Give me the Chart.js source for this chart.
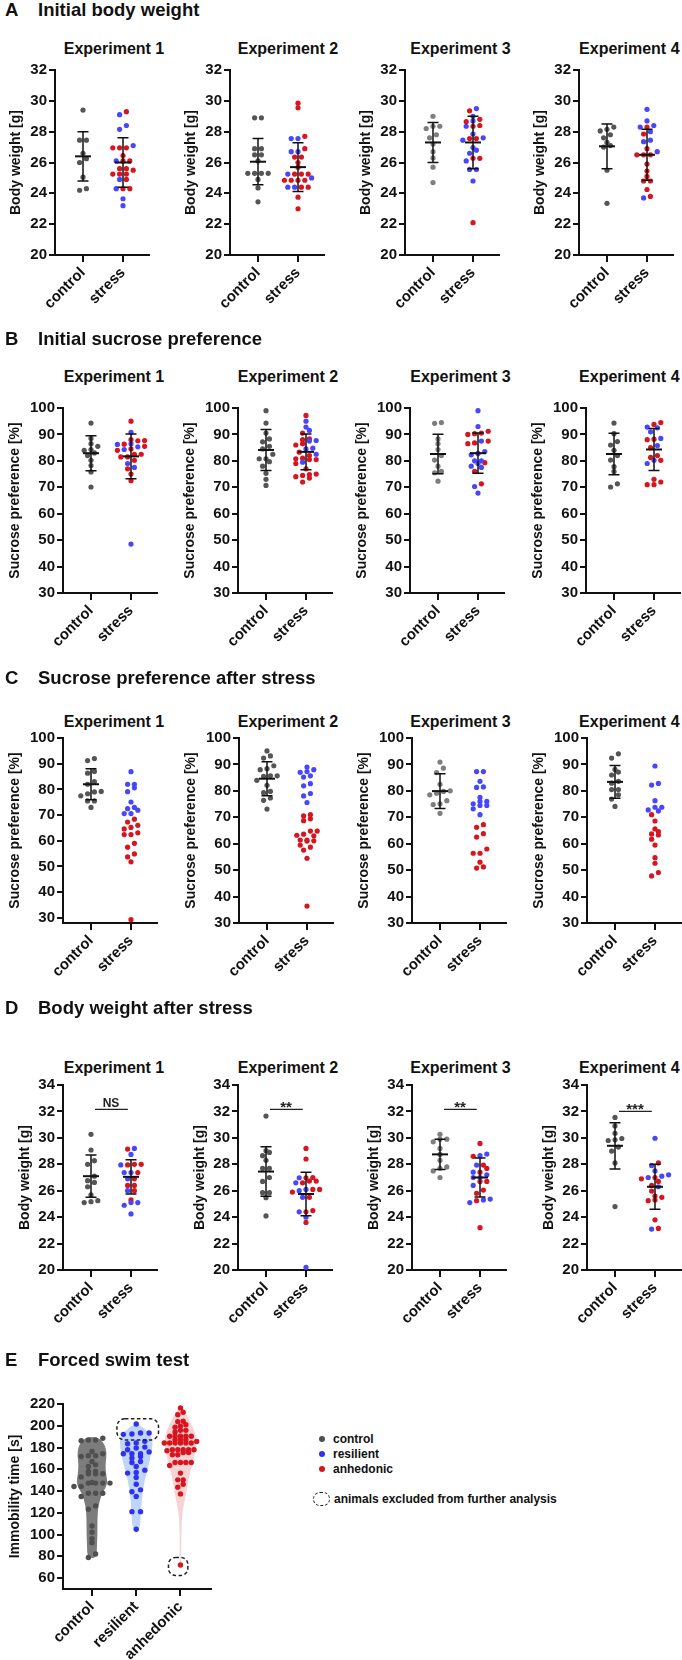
<!DOCTYPE html>
<html><head><meta charset="utf-8">
<script src="https://cdn.jsdelivr.net/npm/chart.js@4/dist/chart.umd.min.js"></script>
<style>
html,body{margin:0;padding:0;background:#fff;}
body{width:682px;height:1660px;position:relative;overflow:hidden;font-family:"Liberation Sans",Arial,Helvetica,sans-serif;color:#111;}
.rt{position:absolute;left:0;font-weight:bold;font-size:18.5px;line-height:22px;white-space:nowrap;height:22px;width:420px;}
.rt .l{position:absolute;left:5px;top:0;}
.rt .t{position:absolute;left:38px;top:0;}
.sub{position:absolute;font-weight:bold;font-size:16px;line-height:18px;white-space:nowrap;transform:translateX(-50%);}
canvas{position:absolute;}
.lg{position:absolute;font-weight:bold;font-size:12px;line-height:14px;white-space:nowrap;}
.dot{position:absolute;width:6px;height:6px;border-radius:50%;}
.dash{position:absolute;border:1.5px dashed #222;border-radius:8px;box-sizing:border-box;}
</style>
</head><body>
<script>
// ---------------- DATA ----------------
const panelCats = ['control', 'stress'];
const fstCats = ['control', 'resilient', 'anhedonic'];
const experiments = ['Experiment 1', 'Experiment 2', 'Experiment 3', 'Experiment 4'];
const rowTitles = ['Initial body weight', 'Initial sucrose preference', 'Sucrose preference after stress', 'Body weight after stress', 'Forced swim test'];
const rowLetters = ['A', 'B', 'C', 'D', 'E'];

// tick labels
const bwTicksA = [20, 22, 24, 26, 28, 30, 32];
const spTicks = [30, 40, 50, 60, 70, 80, 90, 100];
const bwTicksD = [20, 22, 24, 26, 28, 30, 32, 34];
const fstTicks = [60, 80, 100, 120, 140, 160, 180, 200, 220];

// A: initial body weight [g]
const A1_control = [29.4, 27.45, 27.45, 26.6, 26.25, 26.0, 25.05, 24.3, 24.2];
const A1_resilient = [29.1, 28.4, 28.15, 27.1, 26.1, 24.9, 24.3, 23.65, 23.2];
const A1_anhedonic = [29.3, 26.95, 26.95, 26.95, 26.45, 26.1, 26.1, 25.6, 25.6, 25.5, 25.25, 25.25, 25.25, 24.9, 24.3, 24.3];
const A2_control = [28.9, 28.9, 26.9, 26.9, 26.5, 26.5, 26.1, 25.3, 25.3, 25.3, 25.3, 24.9, 24.35, 23.45];
const A2_resilient = [27.55, 27.55, 26.7, 26.7, 25.25, 25.0, 24.4, 24.4];
const A2_anhedonic = [29.85, 29.55, 27.7, 26.9, 26.35, 26.35, 26.0, 25.7, 25.25, 25.25, 25.25, 24.85, 24.85, 24.85, 24.85, 24.4, 24.4, 23.75, 23.0];
const A3_control = [29.0, 28.35, 28.35, 28.2, 27.8, 27.6, 27.2, 26.7, 26.3, 25.7, 24.7];
const A3_resilient = [29.5, 29.0, 28.7, 28.35, 27.85, 27.6, 27.45, 26.97, 26.8, 26.6, 26.1, 25.55, 25.55, 24.8];
const A3_anhedonic = [29.35, 28.8, 28.65, 28.4, 28.35, 27.55, 27.55, 26.27, 26.27, 22.1];
const A4_control = [28.3, 28.15, 28.05, 27.8, 27.6, 27.3, 27.1, 27.0, 25.5, 23.35];
const A4_resilient = [29.45, 28.7, 28.4, 28.3, 28.0, 27.45, 27.35, 26.7, 23.7];
const A4_anhedonic = [28.3, 27.85, 26.9, 26.5, 26.5, 26.5, 25.9, 25.45, 25.1, 24.8, 24.8, 24.25, 23.8];
const A_ctrlMean = [26.4, 26.05, 27.3, 27.05], A_ctrlSD = [1.6, 1.5, 1.3, 1.45];
const A_stressMean = [26.0, 25.7, 27.3, 26.5], A_stressSD = [1.6, 1.58, 1.7, 1.65];

// B: initial sucrose preference [%]
const B1_control = [94.3, 88.5, 86.5, 85.5, 84.3, 84.0, 83.0, 82.0, 80.2, 78.2, 75.8, 70.1];
const B1_resilient = [90.8, 86.5, 86.2, 85.3, 84.3, 79.0, 77.5, 48.5];
const B1_anhedonic = [95.0, 88.0, 87.7, 87.6, 86.3, 85.5, 84.5, 84.0, 82.5, 82.5, 81.5, 81.5, 80.2, 77.0, 75.0, 72.5];
const B2_control = [99.0, 94.3, 90.5, 88.3, 87.2, 85.5, 84.5, 82.5, 80.8, 80.8, 79.7, 78.0, 75.3, 73.0, 70.7];
const B2_resilient = [95.0, 92.8, 91.5, 87.7, 87.5, 84.8, 84.5, 82.5, 79.5];
const B2_anhedonic = [97.2, 90.5, 88.3, 88.0, 86.5, 86.0, 83.3, 82.0, 81.0, 80.8, 80.5, 80.5, 79.0, 77.0, 75.0, 74.8, 74.5, 74.0, 73.5, 72.0];
const B3_control = [94.5, 94.2, 88.3, 86.5, 84.3, 82.0, 80.3, 78.0, 76.0, 75.5, 72.3];
const B3_resilient = [99.0, 93.0, 87.5, 83.5, 82.8, 82.3, 80.0, 80.0, 79.0, 78.0, 77.5, 70.3, 67.8];
const B3_anhedonic = [91.2, 90.5, 90.3, 90.0, 87.5, 86.8, 86.5, 79.3, 76.0, 71.3];
const B4_control = [94.3, 90.3, 87.3, 86.0, 84.0, 82.0, 80.3, 77.8, 76.0, 71.3, 70.1];
const B4_resilient = [92.8, 92.5, 91.0, 88.5, 85.8, 80.2, 79.0];
const B4_anhedonic = [94.5, 93.8, 88.2, 88.0, 85.0, 82.0, 81.3, 80.2, 73.0, 72.0, 71.0, 71.0];
const B_ctrlMean = [82.9, 84.1, 82.6, 82.6], B_ctrlSD = [6.6, 7.75, 7.5, 7.85];
const B_stressMean = [81.7, 83.4, 82.9, 84.3], B_stressSD = [8.5, 6.8, 7.6, 7.95];

// C: sucrose preference after stress [%]
const C1_control = [92.0, 91.2, 87.0, 86.3, 83.0, 82.0, 79.2, 79.0, 78.3, 77.5, 75.5, 75.5, 73.0];
const C1_resilient = [86.9, 82.0, 82.0, 80.6, 79.1, 75.1, 73.0, 72.5, 71.9, 70.6, 70.6];
const C1_anhedonic = [68.4, 67.3, 66.0, 65.2, 64.6, 63.1, 62.4, 62.4, 59.0, 57.5, 54.9, 53.7, 51.8, 29.3];
const C2_control = [95.1, 93.2, 92.4, 89.5, 88.4, 88.0, 85.7, 85.7, 85.5, 84.0, 82.1, 79.8, 79.3, 77.3, 76.4, 73.1];
const C2_resilient = [89.0, 88.0, 87.3, 87.0, 85.7, 85.2, 82.7, 81.9, 79.0, 78.1, 75.6];
const C2_anhedonic = [71.0, 70.5, 69.4, 68.7, 64.8, 64.8, 63.6, 63.2, 63.0, 61.4, 61.4, 61.1, 61.0, 59.5, 58.7, 57.6, 54.5, 36.4];
const C3_control = [90.9, 88.6, 86.9, 82.5, 80.0, 79.8, 79.1, 78.5, 76.3, 75.1, 74.8, 71.5];
const C3_resilient = [87.3, 87.3, 83.6, 81.5, 81.3, 77.5, 76.0, 76.0, 75.1, 74.5, 74.5, 73.2, 71.0];
const C3_anhedonic = [67.2, 66.2, 63.8, 62.5, 58.0, 56.4, 56.4, 53.0, 51.2, 50.8];
const C4_control = [94.0, 92.4, 88.1, 87.1, 86.0, 83.6, 82.9, 80.5, 80.5, 78.5, 76.9, 74.1];
const C4_resilient = [89.4, 82.8, 82.2, 76.3, 73.8, 73.8, 72.8, 72.4];
const C4_anhedonic = [71.0, 68.6, 65.6, 64.6, 63.7, 63.3, 61.7, 59.5, 54.7, 52.6, 49.1, 47.8];
const C_ctrlMean = [82.0, 84.6, 79.9, 83.4], C_ctrlSD = [6.05, 6.45, 6.6, 6.2];

// D: body weight after stress [g]
const D1_control = [30.27, 29.08, 28.27, 28.0, 27.1, 26.76, 26.63, 26.3, 25.68, 25.25, 25.17, 25.1];
const D1_resilient = [29.2, 28.75, 27.95, 27.37, 27.37, 26.9, 26.0, 25.1, 25.1, 24.9, 24.24];
const D1_anhedonic = [29.15, 28.0, 28.0, 27.95, 27.37, 26.9, 26.4, 26.4, 26.0, 25.3];
const D2_control = [31.65, 29.03, 28.9, 28.65, 28.3, 27.7, 27.7, 27.0, 26.7, 25.85, 25.85, 25.47, 24.09];
const D2_resilient = [26.98, 26.6, 26.1, 26.0, 25.5, 24.4, 24.0, 20.2];
const D2_anhedonic = [29.2, 28.4, 27.0, 26.98, 26.73, 26.73, 26.6, 26.1, 26.1, 25.9, 25.5, 24.5, 24.4, 23.6];
const D3_control = [30.27, 29.9, 29.9, 29.7, 29.2, 28.75, 28.3, 27.8, 27.7, 27.5, 27.0];
const D3_resilient = [28.77, 28.65, 27.94, 27.4, 27.2, 27.0, 27.0, 26.4, 25.37, 25.3, 25.1];
const D3_anhedonic = [29.58, 28.6, 27.94, 27.69, 27.4, 26.7, 26.7, 26.05, 25.8, 25.25, 23.2];
const D4_control = [31.55, 30.9, 30.35, 29.95, 29.85, 29.8, 29.3, 29.0, 28.1, 24.8];
const D4_resilient = [29.97, 27.9, 27.5, 27.2, 27.1, 27.0, 26.3, 23.1];
const D4_anhedonic = [28.1, 27.0, 26.9, 26.7, 26.4, 25.97, 25.6, 25.5, 25.3, 25.25, 23.8, 23.15];
const D_ctrlMean = [27.1, 27.45, 28.75, 29.4], D_ctrlSD = [1.6, 1.87, 1.15, 1.75];
const D_stressMean = [27.05, 25.75, 27.0, 26.3], D_stressSD = [1.3, 1.65, 1.47, 1.7];
const D_sigLabels = ['NS', '**', '**', '***'];
const D_sigLevel = [32.15, 32.15, 32.15, 32.0];

// E: forced swim test, immobility time [s]
const E_control = [188.5, 186.9, 186.9, 186.2, 176.4, 174.3, 172.4, 172.4, 171.8, 167.2, 164.1, 162.6, 158.0, 158.0, 155.9, 155.9, 155.9, 153.0, 147.9, 147.3, 147.3, 147.3, 147.3, 144.2, 144.2, 138.0, 138.0, 138.0, 135.0, 126.4, 123.3, 107.9, 102.1, 96.3, 92.6, 82.1, 79.0];
const E_resilient = [201.6, 193.3, 193.3, 192.4, 192.1, 185.7, 184.1, 183.5, 180.4, 179.5, 178.0, 176.0, 174.3, 174.3, 174.3, 171.8, 170.3, 167.2, 166.3, 162.6, 159.2, 157.1, 156.5, 152.5, 146.3, 141.1, 139.3, 135.0, 121.1, 121.1, 104.9];
const E_anhedonic = [216.4, 212.4, 210.2, 204.1, 203.8, 201.0, 199.5, 198.6, 195.8, 195.8, 194.3, 190.3, 190.3, 190.3, 190.3, 190.3, 187.2, 187.2, 187.2, 185.6, 184.1, 184.1, 184.1, 184.1, 184.1, 184.1, 178.0, 178.0, 178.0, 178.0, 178.0, 177.1, 175.5, 175.5, 173.4, 173.4, 166.3, 166.3, 166.3, 166.3, 163.5, 156.5, 150.3, 150.3, 146.3, 143.6, 137.4, 72.0];
// violin density profiles (relative)
const E_ctrlViolinLevels = [78, 80, 90, 100, 110, 120, 126, 132, 138, 143, 148, 155, 162, 168, 174, 180, 185, 188.5, 190];
const E_ctrlViolinDensity = [0, 0.3, 0.32, 0.35, 0.35, 0.37, 0.42, 0.52, 0.66, 0.88, 1.0, 0.92, 0.87, 0.9, 0.94, 0.88, 0.72, 0.45, 0];
const E_resViolinLevels = [104, 106, 115, 125, 135, 142, 150, 158, 165, 172, 180, 186, 192, 197, 200.5, 202];
const E_resViolinDensity = [0, 0.22, 0.27, 0.3, 0.36, 0.42, 0.52, 0.65, 0.78, 0.87, 0.97, 1.0, 0.85, 0.55, 0.22, 0];
const E_anhViolinLevels = [70, 75, 90, 105, 118, 125, 132, 140, 148, 156, 164, 172, 180, 187, 194, 200, 206, 212, 216, 217.5];
const E_anhViolinDensity = [0, 0.04, 0.05, 0.06, 0.1, 0.18, 0.28, 0.38, 0.47, 0.58, 0.72, 0.86, 0.97, 1.0, 0.9, 0.72, 0.52, 0.32, 0.12, 0];
// animals excluded from further analysis (group index, value range)
const E_excludedGroup = [1, 2];
const E_excludedLow = [187, 62.5];
const E_excludedHigh = [206.5, 79];

// ---------------- STYLE / LAYOUT ----------------
const FONT = '"Liberation Sans", Arial, Helvetica, sans-serif';
Chart.defaults.font.family = FONT;
Chart.defaults.color = '#111';
const INK = '#111';
const RED = '#d8141e', BLUE = '#4646ff';
const CTRL_COLORS = ['#555555', '#555555', '#7e7e7e', '#555555'];
const TICK_FONT = {size: 15, weight: 'bold'};

function swarmX(vals, center, yPx, xPx, spacing, rowPx) {
  const order = vals.map((v, i) => i).sort((a, b) => vals[a] - vals[b]);
  const xs = new Array(vals.length);
  let row = [];
  const flush = () => {
    const n = row.length;
    row.forEach((idx, k) => { xs[idx] = center + (k - (n - 1) / 2) * spacing / xPx; });
    row = [];
  };
  for (const i of order) {
    if (row.length && (vals[i] - vals[row[0]]) * yPx > rowPx) flush();
    row.push(i);
  }
  flush();
  return xs;
}

function addText(cls, html, left, top) {
  const d = document.createElement('div');
  d.className = cls; d.innerHTML = html;
  d.style.left = left + 'px'; d.style.top = top + 'px';
  document.body.appendChild(d);
  return d;
}

function makeCanvas(axisX, plotTop, plotW, plotH, L, T, R, B) {
  const cv = document.createElement('canvas');
  const W = Math.round(L + plotW + R), H = Math.round(T + plotH + B);
  cv.width = W; cv.height = H;
  cv.style.left = (axisX - L) + 'px'; cv.style.top = (plotTop - T) + 'px';
  cv.style.width = W + 'px'; cv.style.height = H + 'px';
  document.body.appendChild(cv);
  return cv;
}

function axisCommon() {
  return {
    grid: {drawOnChartArea: false, drawTicks: true, color: INK, lineWidth: 2},
    border: {display: true, color: INK, width: 2}
  };
}

function makePanel(p) {
  const L = 60, T = 12, R = 14, B = 80;
  const plotW = 94, plotH = p.plotBottom - p.plotTop;
  const xMin = -0.7, xMax = 1.65;
  const xPx = plotW / (xMax - xMin), yPx = plotH / (p.yMax - p.yMin);
  const cv = makeCanvas(p.axisX, p.plotTop, plotW, plotH, L, T, R, B);

  const cx = swarmX(p.control, 0, yPx, xPx, 6.8, 4.6);
  const sVals = p.resilient.concat(p.anhedonic);
  const sx = swarmX(sVals, 1, yPx, xPx, 6.8, 4.6);
  const nR = p.resilient.length;
  const ds = (pts, col) => ({data: pts, pointRadius: 2.6, pointHoverRadius: 2.6, pointBackgroundColor: col,
    pointBorderWidth: 0, pointBorderColor: col, showLine: false, clip: false});
  const ctrlPts = p.control.map((v, i) => ({x: cx[i], y: v}));
  const resPts = p.resilient.map((v, i) => ({x: sx[i], y: v}));
  const anhPts = p.anhedonic.map((v, i) => ({x: sx[nR + i], y: v}));

  const extra = {
    id: 'bars' + Math.random().toString(36).slice(2),
    afterDatasetsDraw(chart) {
      const ctx = chart.ctx, xs = chart.scales.x, ys = chart.scales.y;
      ctx.save();
      ctx.strokeStyle = INK; ctx.lineCap = 'butt';
      for (const b of p.bars) {
        const x = xs.getPixelForValue(b.x);
        const yT = ys.getPixelForValue(b.mean + b.sd), yB = ys.getPixelForValue(b.mean - b.sd), yM = ys.getPixelForValue(b.mean);
        ctx.lineWidth = 1.5;
        ctx.beginPath();
        ctx.moveTo(x, yT); ctx.lineTo(x, yB);
        ctx.moveTo(x - 5.5, yT); ctx.lineTo(x + 5.5, yT);
        ctx.moveTo(x - 5.5, yB); ctx.lineTo(x + 5.5, yB);
        ctx.stroke();
        ctx.lineWidth = 2;
        ctx.beginPath(); ctx.moveTo(x - 8, yM); ctx.lineTo(x + 8, yM); ctx.stroke();
      }
      if (p.sig) {
        const y = ys.getPixelForValue(p.sig.level);
        const x0 = xs.getPixelForValue(0.1), x1 = xs.getPixelForValue(0.92), xm = xs.getPixelForValue(0.5);
        ctx.lineWidth = 1.3; ctx.strokeStyle = '#222';
        ctx.beginPath(); ctx.moveTo(x0, y); ctx.lineTo(x1, y); ctx.stroke();
        ctx.fillStyle = '#222'; ctx.textAlign = 'center';
        if (p.sig.text === 'NS') {
          ctx.font = 'bold 12px ' + FONT; ctx.textBaseline = 'alphabetic';
          ctx.fillText(p.sig.text, xm, y - 2.5);
        } else {
          ctx.font = 'bold 15px ' + FONT; ctx.textBaseline = 'alphabetic';
          ctx.fillText(p.sig.text, xm, y + 3);
        }
      }
      ctx.restore();
    }
  };

  new Chart(cv, {
    type: 'scatter',
    data: {datasets: [ds(ctrlPts, p.ctrlColor), ds(resPts, BLUE), ds(anhPts, RED)]},
    options: {
      responsive: false, animation: false, devicePixelRatio: 1, events: [],
      layout: {padding: {left: 0, top: T, right: R, bottom: 0}},
      plugins: {legend: {display: false}, tooltip: {enabled: false}, title: {display: false}},
      scales: {
        x: Object.assign(axisCommon(), {
          type: 'linear', min: xMin, max: xMax,
          afterFit: s => { s.height = B; },
          afterBuildTicks: s => { s.ticks = panelCats.map((c, i) => ({value: i})); },
          ticks: {callback: v => panelCats[v], minRotation: 45, maxRotation: 45, autoSkip: false,
            font: TICK_FONT, color: INK, padding: 2},
          grid: {drawOnChartArea: false, drawTicks: true, tickLength: 7, color: INK, lineWidth: 2}
        }),
        y: Object.assign(axisCommon(), {
          type: 'linear', min: p.yMin, max: p.yMax,
          afterFit: s => { s.width = L; },
          afterBuildTicks: s => { s.ticks = p.yTicks.map(v => ({value: v})); },
          ticks: {font: TICK_FONT, color: INK, padding: 2},
          grid: {drawOnChartArea: false, drawTicks: true, tickLength: 6, color: INK, lineWidth: 2},
          title: {display: true, text: p.yTitle, font: {size: 14, weight: 'bold'}, color: INK,
            padding: {top: L - p.d - 8.4, bottom: 0}}
        })
      }
    },
    plugins: [extra]
  });
}

// ---------------- BUILD ----------------
const rowCfg = [
  {titleY: 9.5, subY: 49, plotTop: 70, plotBottom: 255, axisX: [55, 230, 405, 579], d: 39,
   yMin: [20, 20, 20, 20], yMax: 32, yTicks: bwTicksA, yTitle: 'Body weight [g]',
   control: [A1_control, A2_control, A3_control, A4_control],
   resilient: [A1_resilient, A2_resilient, A3_resilient, A4_resilient],
   anhedonic: [A1_anhedonic, A2_anhedonic, A3_anhedonic, A4_anhedonic],
   cm: A_ctrlMean, cs: A_ctrlSD, sm: A_stressMean, ss: A_stressSD},
  {titleY: 339, subY: 377, plotTop: 408, plotBottom: 593, axisX: [63, 238, 410, 586], d: 48,
   yMin: [30, 30, 30, 30], yMax: 100, yTicks: spTicks, yTitle: 'Sucrose preference [%]',
   control: [B1_control, B2_control, B3_control, B4_control],
   resilient: [B1_resilient, B2_resilient, B3_resilient, B4_resilient],
   anhedonic: [B1_anhedonic, B2_anhedonic, B3_anhedonic, B4_anhedonic],
   cm: B_ctrlMean, cs: B_ctrlSD, sm: B_stressMean, ss: B_stressSD},
  {titleY: 678, subY: 721.5, plotTop: 738, plotBottom: 923, axisX: [63, 239, 412, 587], d: 48,
   yMin: [28, 30, 30, 30], yMax: 100, yTicks: spTicks, yTitle: 'Sucrose preference [%]',
   control: [C1_control, C2_control, C3_control, C4_control],
   resilient: [C1_resilient, C2_resilient, C3_resilient, C4_resilient],
   anhedonic: [C1_anhedonic, C2_anhedonic, C3_anhedonic, C4_anhedonic],
   cm: C_ctrlMean, cs: C_ctrlSD, sm: null, ss: null},
  {titleY: 1008, subY: 1068, plotTop: 1085, plotBottom: 1270, axisX: [63, 238, 412, 587], d: 38,
   yMin: [20, 20, 20, 20], yMax: 34, yTicks: bwTicksD, yTitle: 'Body weight [g]',
   control: [D1_control, D2_control, D3_control, D4_control],
   resilient: [D1_resilient, D2_resilient, D3_resilient, D4_resilient],
   anhedonic: [D1_anhedonic, D2_anhedonic, D3_anhedonic, D4_anhedonic],
   cm: D_ctrlMean, cs: D_ctrlSD, sm: D_stressMean, ss: D_stressSD, sig: true}
];
const subCenters = [114, 288, 460.5, 629.3];

rowCfg.forEach((r, ri) => {
  addText('rt', '<span class="l">' + rowLetters[ri] + '</span><span class="t">' + rowTitles[ri] + '</span>', 0, r.titleY - 10.8);
  for (let e = 0; e < 4; e++) {
    addText('sub', experiments[e], subCenters[e], r.subY - 8.7);
    const bars = [{x: 0, mean: r.cm[e], sd: r.cs[e]}];
    if (r.sm) bars.push({x: 1, mean: r.sm[e], sd: r.ss[e]});
    makePanel({
      axisX: r.axisX[e], plotTop: r.plotTop, plotBottom: r.plotBottom, d: r.d,
      yMin: r.yMin[e], yMax: r.yMax, yTicks: r.yTicks, yTitle: r.yTitle,
      control: r.control[e], resilient: r.resilient[e], anhedonic: r.anhedonic[e],
      ctrlColor: CTRL_COLORS[e], bars: bars,
      sig: r.sig ? {text: D_sigLabels[e], level: D_sigLevel[e]} : null
    });
  }
});

// ---------------- PANEL E ----------------
addText('rt', '<span class="l">' + rowLetters[4] + '</span><span class="t">' + rowTitles[4] + '</span>', 0, 1360 - 10.8);
(function () {
  const L = 60, T = 12, R = 14, B = 80;
  const axisX = 63, plotTop = 1404, plotBottom = 1589, plotW = 148, plotH = plotBottom - plotTop;
  const xMin = -0.655, xMax = 2.69, yMin = 50, yMax = 220;
  const xPx = plotW / (xMax - xMin), yPx = plotH / (yMax - yMin);
  const cv = makeCanvas(axisX, plotTop, plotW, plotH, L, T, R, B);
  const groups = [E_control, E_resilient, E_anhedonic];
  const cols = ['#4f4f4f', '#2f2ff5', RED];
  const spacing = [7.2, 8.6, 5.4];
  const rowPx = [3.4, 3.6, 3.2];
  const datasets = groups.map((g, gi) => {
    const xs = swarmX(g, gi, yPx, xPx, spacing[gi], rowPx[gi]);
    return {data: g.map((v, i) => ({x: xs[i], y: v})), pointRadius: 2.7, pointHoverRadius: 2.7,
      pointBackgroundColor: cols[gi], pointBorderWidth: 0, showLine: false, clip: false};
  });
  const violins = [
    {cat: 0, levels: E_ctrlViolinLevels, dens: E_ctrlViolinDensity, maxPx: 15.5, color: '#7c7c7c'},
    {cat: 1, levels: E_resViolinLevels, dens: E_resViolinDensity, maxPx: 16.5, color: 'rgba(150,186,240,0.6)'},
    {cat: 2, levels: E_anhViolinLevels, dens: E_anhViolinDensity, maxPx: 16, color: 'rgba(238,160,160,0.45)'}
  ];
  const boxPx = [[19.3, 22.3, 8], [12, 7.4, 7]];
  const plug = {
    id: 'violinE',
    beforeDatasetsDraw(chart) {
      const ctx = chart.ctx, xs = chart.scales.x, ys = chart.scales.y;
      ctx.save();
      for (const v of violins) {
        const c = xs.getPixelForValue(v.cat);
        const n = v.levels.length;
        const P = [];
        for (let i = 0; i < n; i++) P.push([c + v.dens[i] * v.maxPx, ys.getPixelForValue(v.levels[i])]);
        for (let i = n - 2; i >= 1; i--) P.push([c - v.dens[i] * v.maxPx, ys.getPixelForValue(v.levels[i])]);
        const m = P.length;
        const mid = (a, b) => [(a[0] + b[0]) / 2, (a[1] + b[1]) / 2];
        let s = mid(P[m - 1], P[0]);
        ctx.beginPath(); ctx.moveTo(s[0], s[1]);
        for (let i = 0; i < m; i++) {
          const q = mid(P[i], P[(i + 1) % m]);
          ctx.quadraticCurveTo(P[i][0], P[i][1], q[0], q[1]);
        }
        ctx.closePath();
        ctx.fillStyle = v.color; ctx.fill();
      }
      ctx.restore();
    },
    afterDatasetsDraw(chart) {
      const ctx = chart.ctx, xs = chart.scales.x, ys = chart.scales.y;
      ctx.save();
      ctx.strokeStyle = '#222'; ctx.lineWidth = 1.5; ctx.setLineDash([3.5, 2.5]);
      E_excludedGroup.forEach((g, k) => {
        const c = xs.getPixelForValue(g);
        const x0 = c - boxPx[k][0], x1 = c + boxPx[k][1];
        const y0 = ys.getPixelForValue(E_excludedHigh[k]), y1 = ys.getPixelForValue(E_excludedLow[k]);
        const r = boxPx[k][2];
        ctx.beginPath();
        ctx.moveTo(x0 + r, y0); ctx.lineTo(x1 - r, y0); ctx.arcTo(x1, y0, x1, y0 + r, r);
        ctx.lineTo(x1, y1 - r); ctx.arcTo(x1, y1, x1 - r, y1, r);
        ctx.lineTo(x0 + r, y1); ctx.arcTo(x0, y1, x0, y1 - r, r);
        ctx.lineTo(x0, y0 + r); ctx.arcTo(x0, y0, x0 + r, y0, r);
        ctx.closePath(); ctx.stroke();
      });
      ctx.restore();
    }
  };
  new Chart(cv, {
    type: 'scatter',
    data: {datasets: datasets},
    options: {
      responsive: false, animation: false, devicePixelRatio: 1, events: [],
      layout: {padding: {left: 0, top: T, right: R, bottom: 0}},
      plugins: {legend: {display: false}, tooltip: {enabled: false}},
      scales: {
        x: Object.assign(axisCommon(), {
          type: 'linear', min: xMin, max: xMax,
          afterFit: s => { s.height = B; },
          afterBuildTicks: s => { s.ticks = fstCats.map((c, i) => ({value: i})); },
          ticks: {callback: v => fstCats[v], minRotation: 45, maxRotation: 45, autoSkip: false,
            font: TICK_FONT, color: INK, padding: 2},
          grid: {drawOnChartArea: false, drawTicks: true, tickLength: 7, color: INK, lineWidth: 2}
        }),
        y: Object.assign(axisCommon(), {
          type: 'linear', min: yMin, max: yMax,
          afterFit: s => { s.width = L; },
          afterBuildTicks: s => { s.ticks = fstTicks.map(v => ({value: v})); },
          ticks: {font: TICK_FONT, color: INK, padding: 2},
          grid: {drawOnChartArea: false, drawTicks: true, tickLength: 6, color: INK, lineWidth: 2},
          title: {display: true, text: 'Immobility time [s]', font: {size: 14, weight: 'bold'}, color: INK,
            padding: {top: L - 48 - 8.4, bottom: 0}}
        })
      }
    },
    plugins: [plug]
  });

  // legend
  const legCols = ['#4f4f4f', '#2f2ff5', RED];
  const legY = [1439.3, 1454.3, 1469.3];
  fstCats.forEach((c, i) => {
    const d = document.createElement('div'); d.className = 'dot';
    d.style.left = (322 - 3) + 'px'; d.style.top = (legY[i] - 3) + 'px'; d.style.background = legCols[i];
    document.body.appendChild(d);
    addText('lg', c, 333, legY[i] - 7);
  });
  const dd = document.createElement('div'); dd.className = 'dash';
  dd.style.left = '313px'; dd.style.top = '1492px'; dd.style.width = '17px'; dd.style.height = '14px';
  document.body.appendChild(dd);
  addText('lg', 'animals excluded from further analysis', 334, 1499 - 7);
})();
</script>
</body></html>
